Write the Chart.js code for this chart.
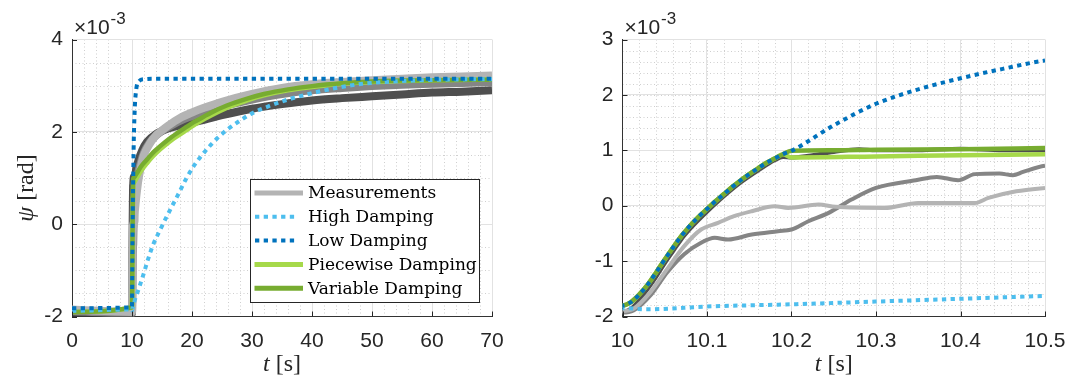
<!DOCTYPE html>
<html>
<head>
<meta charset="utf-8">
<script src="https://cdn.jsdelivr.net/npm/chart.js@4.4.0/dist/chart.umd.min.js"></script>
<style>
  html, body { margin: 0; padding: 0; background: #fff; }
  #wrap { position: relative; width: 1078px; height: 380px; }
  .panel { position: absolute; top: 0; height: 380px; }
  #left { left: 0; width: 540px; }
  #right { left: 540px; width: 538px; }
</style>
</head>
<body>
<div id="wrap">
  <div class="panel" id="left"><canvas id="fullChart"></canvas></div>
  <div class="panel" id="right"><canvas id="zoomChart"></canvas></div>
</div>
<script>
// yaw angle psi in units of 1e-3 rad, time in s

const measLightT = [0, 10, 10.013, 10.033, 10.053, 10.073, 10.093, 10.113, 10.132, 10.153, 10.18, 10.196, 10.232, 10.252, 10.31, 10.35, 10.39, 10.417, 10.433, 10.466, 10.5, 11, 11.5, 12, 13, 14, 15, 16, 18, 20, 22, 25, 30, 35, 40, 45, 50, 55, 60, 65, 70];
const measLightY = [-1.85, -1.9, -1.86, -1.56, -1.14, -0.73, -0.43, -0.31, -0.19, -0.10, -0.01, -0.04, 0.02, -0.02, -0.04, 0.05, 0.05, 0.05, 0.14, 0.26, 0.32, 0.9, 1.25, 1.5, 1.75, 1.92, 2.03, 2.13, 2.3, 2.42, 2.52, 2.65, 2.82, 2.95, 3.03, 3.08, 3.12, 3.15, 3.18, 3.2, 3.22];

const measMidT = [0, 10, 10.013, 10.033, 10.053, 10.073, 10.093, 10.109, 10.125, 10.153, 10.184, 10.2, 10.22, 10.244, 10.271, 10.3, 10.347, 10.372, 10.397, 10.417, 10.446, 10.462, 10.474, 10.5, 11, 11.5, 12, 13, 14, 15, 16, 18, 20, 22, 25, 30, 35, 40, 45, 50, 55, 60, 65, 70];
const measMidY = [-1.88, -1.93, -1.89, -1.62, -1.20, -0.875, -0.67, -0.58, -0.61, -0.52, -0.46, -0.43, -0.28, -0.13, 0.11, 0.32, 0.46, 0.52, 0.46, 0.57, 0.58, 0.55, 0.61, 0.72, 1.1, 1.35, 1.55, 1.78, 1.92, 2.02, 2.1, 2.24, 2.34, 2.43, 2.55, 2.7, 2.82, 2.9, 2.95, 2.99, 3.02, 3.04, 3.06, 3.08];

const measDarkT = [0, 10, 10.01, 10.02, 10.03, 10.04, 10.05, 10.06, 10.07, 10.08, 10.09, 10.1, 10.12, 10.14, 10.16, 10.18, 10.19, 10.2, 10.22, 10.25, 10.28, 10.3, 10.35, 10.4, 10.45, 10.5, 10.7, 11, 11.7, 12.5, 14, 16, 18, 20, 22, 25, 30, 35, 40, 45, 50, 55, 60, 65, 70];
const measDarkY = [-1.9, -1.92, -1.86, -1.7, -1.5, -1.28, -1.04, -0.82, -0.6, -0.42, -0.26, -0.11, 0.17, 0.42, 0.63, 0.82, 0.88, 0.87, 0.9, 0.97, 1.02, 1.0, 1.0, 1.03, 1.0, 1.0, 1.2, 1.35, 1.6, 1.78, 1.95, 2.07, 2.14, 2.2, 2.26, 2.36, 2.5, 2.6, 2.68, 2.73, 2.77, 2.81, 2.85, 2.87, 2.9];

const highT = [0, 10, 10.03, 10.1, 10.2, 10.3, 10.4, 10.5, 11.1, 12, 12.6, 13.6, 14.7, 16, 17.8, 19, 20.3, 22, 24.2, 26, 28.1, 30, 32.9, 36, 39.8, 44, 48.4, 55, 62, 70];
const highY = [-1.88, -1.85, -1.87, -1.82, -1.78, -1.73, -1.68, -1.63, -1.41, -1.05, -0.79, -0.42, -0.12, 0.22, 0.67, 0.98, 1.26, 1.55, 1.86, 2.06, 2.25, 2.4, 2.56, 2.7, 2.83, 2.95, 3.04, 3.1, 3.13, 3.14];

const lowT = [0, 10, 10.01, 10.02, 10.03, 10.04, 10.05, 10.06, 10.07, 10.08, 10.09, 10.1, 10.11, 10.12, 10.13, 10.14, 10.15, 10.16, 10.17, 10.18, 10.19, 10.2, 10.25, 10.3, 10.35, 10.4, 10.45, 10.5, 10.8, 11.2, 12, 14, 70];
const lowY = [-1.82, -1.8, -1.74, -1.6, -1.42, -1.2, -0.97, -0.75, -0.54, -0.36, -0.2, -0.06, 0.08, 0.21, 0.34, 0.46, 0.57, 0.67, 0.77, 0.85, 0.93, 0.99, 1.45, 1.84, 2.1, 2.3, 2.47, 2.62, 3.0, 3.1, 3.14, 3.15, 3.15];

const pieceT = [0, 10, 10.01, 10.02, 10.03, 10.04, 10.05, 10.06, 10.07, 10.08, 10.09, 10.1, 10.11, 10.12, 10.13, 10.14, 10.15, 10.16, 10.17, 10.18, 10.19, 10.2, 10.3, 10.4, 10.5, 10.8, 11.5, 12.5, 13.5, 14.7, 16, 17.5, 19, 20.3, 22, 23.1, 25.8, 29.2, 32, 36, 40, 45, 50, 55, 60, 70];
const pieceY = [-1.9, -1.8, -1.74, -1.6, -1.42, -1.2, -0.97, -0.75, -0.54, -0.36, -0.2, -0.06, 0.08, 0.21, 0.34, 0.46, 0.57, 0.67, 0.77, 0.85, 0.93, 0.87, 0.89, 0.91, 0.93, 1.0, 1.15, 1.32, 1.47, 1.62, 1.76, 1.9, 2.03, 2.14, 2.27, 2.35, 2.52, 2.68, 2.79, 2.9, 2.97, 3.04, 3.08, 3.1, 3.12, 3.13];

const varT = [0, 10, 10.01, 10.02, 10.03, 10.04, 10.05, 10.06, 10.07, 10.08, 10.09, 10.1, 10.11, 10.12, 10.13, 10.14, 10.15, 10.16, 10.17, 10.18, 10.19, 10.2, 10.25, 10.3, 10.4, 10.5, 10.8, 11.5, 12.5, 13.5, 14.7, 16, 17.5, 19, 20.3, 22, 23.1, 25.8, 29.2, 32, 36, 40, 45, 50, 55, 60, 70];
const varY = [-1.9, -1.8, -1.74, -1.6, -1.42, -1.2, -0.97, -0.75, -0.54, -0.36, -0.2, -0.06, 0.08, 0.21, 0.34, 0.46, 0.57, 0.67, 0.77, 0.85, 0.93, 0.99, 1.0, 1.01, 1.02, 1.04, 1.1, 1.25, 1.4, 1.55, 1.69, 1.83, 1.97, 2.1, 2.21, 2.33, 2.41, 2.57, 2.72, 2.82, 2.92, 2.99, 3.05, 3.09, 3.11, 3.12, 3.13];

const legendLabels = ['Measurements', 'High Damping', 'Low Damping', 'Piecewise Damping', 'Variable Damping'];

const SANS = '"Liberation Sans", Arial, sans-serif';
const SERIF = '"Liberation Serif", serif';
const LEGEND_SERIF = '"DejaVu Serif", serif';
const INK = '#262626';
const DOTS = [4.3, 4.4];

function pts(t, y) {
    return t.map((v, i) => ({ x: v, y: y[i] }));
}

function buildDatasets(measWidth) {
    const sets = [
        { label: 'Low Damping', data: pts(lowT, lowY), borderColor: '#0072bd', borderWidth: 4, borderDash: DOTS, order: 0 },
        { label: 'High Damping', data: pts(highT, highY), borderColor: '#4dbeee', borderWidth: 4, borderDash: DOTS, order: 1 },
        { label: 'Variable Damping', data: pts(varT, varY), borderColor: '#77ac30', borderWidth: 4.5, order: 2 },
        { label: 'Piecewise Damping', data: pts(pieceT, pieceY), borderColor: '#a6d94a', borderWidth: 4.5, order: 3 },
        { label: 'Measurements', data: pts(measLightT, measLightY), borderColor: '#b4b4b4', borderWidth: measWidth, order: 4 },
        { label: 'Measurements 2', data: pts(measMidT, measMidY), borderColor: '#858585', borderWidth: measWidth, order: 5 },
        { label: 'Measurements 3', data: pts(measDarkT, measDarkY), borderColor: '#4f4f4f', borderWidth: measWidth, order: 6 }
    ];
    return sets.map(d => Object.assign({
        pointRadius: 0, fill: false, cubicInterpolationMode: 'monotone',
        borderCapStyle: 'butt', borderJoinStyle: 'round', clip: 0
    }, d));
}

// dotted minor grid under the major one
const minorGrid = {
    id: 'minorGrid',
    beforeDraw(chart, args, opts) {
        const { ctx, chartArea: a, scales: { x, y } } = chart;
        ctx.save();
        ctx.strokeStyle = '#cfcfcf';
        ctx.lineWidth = 1;
        ctx.setLineDash([1, 2.5]);
        ctx.beginPath();
        const nx = Math.round((x.max - x.min) / opts.x);
        for (let i = 1; i < nx; i++) {
            const px = Math.round(x.getPixelForValue(x.min + i * opts.x)) + 0.5;
            ctx.moveTo(px, a.top); ctx.lineTo(px, a.bottom);
        }
        const ny = Math.round((y.max - y.min) / opts.y);
        for (let i = 1; i < ny; i++) {
            const py = Math.round(y.getPixelForValue(y.min + i * opts.y)) + 0.5;
            ctx.moveTo(a.left, py); ctx.lineTo(a.right, py);
        }
        ctx.stroke();
        ctx.restore();
    }
};

// inward tick marks, exponent and axis titles
const axisDecor = {
    id: 'axisDecor',
    afterDraw(chart, args, opts) {
        const { ctx, chartArea: a, scales: { x, y } } = chart;
        ctx.save();
        ctx.strokeStyle = INK;
        ctx.lineWidth = 1;
        ctx.beginPath();
        x.ticks.forEach(t => {
            const px = Math.round(x.getPixelForValue(t.value)) + 0.5;
            ctx.moveTo(px, a.bottom); ctx.lineTo(px, a.bottom - 5);
        });
        y.ticks.forEach(t => {
            const py = Math.round(y.getPixelForValue(t.value)) + 0.5;
            ctx.moveTo(a.left, py); ctx.lineTo(a.left + 5, py);
        });
        ctx.stroke();

        ctx.fillStyle = INK;
        ctx.textBaseline = 'alphabetic';
        ctx.textAlign = 'left';
        ctx.font = '21px ' + SANS;
        const ex = a.left + 2;
        ctx.fillText('\u00d710', ex, 34);
        const w10 = ctx.measureText('\u00d710').width;
        ctx.font = '17px ' + SANS;
        ctx.fillText('-3', ex + w10 + 1, 24);

        // x title: t [s]
        ctx.font = 'italic 24px ' + SERIF;
        const wt = ctx.measureText('t').width;
        ctx.font = '24px ' + SERIF;
        const ws = ctx.measureText(' [s]').width;
        const cx = (a.left + a.right) / 2 - (wt + ws) / 2;
        ctx.font = 'italic 24px ' + SERIF;
        ctx.fillText('t', cx, 371);
        ctx.font = '24px ' + SERIF;
        ctx.fillText(' [s]', cx + wt, 371);

        if (opts.yTitle) {
            ctx.translate(opts.yTitleX, (a.top + a.bottom) / 2 + 10);
            ctx.rotate(-Math.PI / 2);
            ctx.font = 'italic 24px ' + SERIF;
            const wp = ctx.measureText('\u03c8').width;
            ctx.font = '24px ' + SERIF;
            const wr = ctx.measureText(' [rad]').width;
            const sx = -(wp + wr) / 2;
            ctx.textBaseline = 'middle';
            ctx.font = 'italic 24px ' + SERIF;
            ctx.fillText('\u03c8', sx, 0);
            ctx.font = '24px ' + SERIF;
            ctx.fillText(' [rad]', sx + wp, 0);
        }
        ctx.restore();
    }
};

// boxed legend in the lower right of the full-length plot
const boxLegend = {
    id: 'boxLegend',
    afterDraw(chart, args, opts) {
        if (!opts.show) return;
        const ctx = chart.ctx;
        const bx = 250.5, by = 179.5, bw = 229, bh = 123;
        ctx.save();
        ctx.fillStyle = '#fff';
        ctx.fillRect(bx, by, bw, bh);
        ctx.strokeStyle = INK;
        ctx.lineWidth = 1;
        ctx.strokeRect(bx, by, bw, bh);
        ctx.font = '17px ' + LEGEND_SERIF;
        ctx.textBaseline = 'middle';
        ctx.fillStyle = '#000';
        legendLabels.forEach((label, i) => {
            const ds = chart.data.datasets.find(d => d.label === label);
            const ry = by + 13.5 + i * 23.8;
            ctx.strokeStyle = ds.borderColor;
            if (ds.borderDash) {
                ctx.setLineDash(ds.borderDash);
                ctx.lineWidth = 4;
                ctx.beginPath(); ctx.moveTo(255, ry); ctx.lineTo(297.5, ry); ctx.stroke();
            } else {
                ctx.setLineDash([]);
                ctx.lineWidth = 5;
                ctx.beginPath(); ctx.moveTo(254.5, ry); ctx.lineTo(303, ry); ctx.stroke();
            }
            ctx.fillText(label, 308, ry + 1);
        });
        ctx.restore();
    }
};

function makeChart(id, cfg) {
    const tickFont = { family: SANS, size: 21 };
    return new Chart(document.getElementById(id), {
        type: 'line',
        data: { datasets: buildDatasets(cfg.measWidth) },
        plugins: [minorGrid, axisDecor, boxLegend],
        options: {
            responsive: true,
            maintainAspectRatio: false,
            animation: false,
            events: [],
            layout: { padding: { top: 39.5, right: cfg.padRight, left: 0, bottom: 0 } },
            scales: {
                x: {
                    type: 'linear', min: cfg.xMin, max: cfg.xMax,
                    ticks: { stepSize: cfg.xStep, autoSkip: false, maxRotation: 0, padding: 12, color: INK, font: tickFont,
                        callback: v => String(+v.toFixed(2)) },
                    grid: { color: '#e2e2e2', drawTicks: false },
                    border: { color: '#333', width: 1 },
                    afterFit: s => { s.height = 63.5; }
                },
                y: {
                    type: 'linear', min: cfg.yMin, max: cfg.yMax,
                    ticks: { stepSize: cfg.yStep, autoSkip: false, padding: 9, color: INK, font: tickFont,
                        callback: v => String(+v.toFixed(2)) },
                    grid: { color: '#e2e2e2', drawTicks: false },
                    border: { color: '#333', width: 1 },
                    afterFit: s => { s.width = cfg.yWidth; }
                }
            },
            plugins: {
                legend: { display: false },
                tooltip: { enabled: false },
                minorGrid: { x: cfg.minorX, y: cfg.minorY },
                axisDecor: { yTitle: cfg.yTitle, yTitleX: 27 },
                boxLegend: { show: cfg.legend }
            }
        }
    });
}

makeChart('fullChart', {
    xMin: 0, xMax: 70, xStep: 10, yMin: -2, yMax: 4, yStep: 2,
    minorX: 2, minorY: 0.5, yWidth: 72, padRight: 48,
    measWidth: 8, yTitle: true, legend: true
});

makeChart('zoomChart', {
    xMin: 10, xMax: 10.5, xStep: 0.1, yMin: -2, yMax: 3, yStep: 1,
    minorX: 0.02, minorY: 0.2, yWidth: 82.5, padRight: 33,
    measWidth: 4, yTitle: false, legend: false
});
</script>
</body>
</html>
